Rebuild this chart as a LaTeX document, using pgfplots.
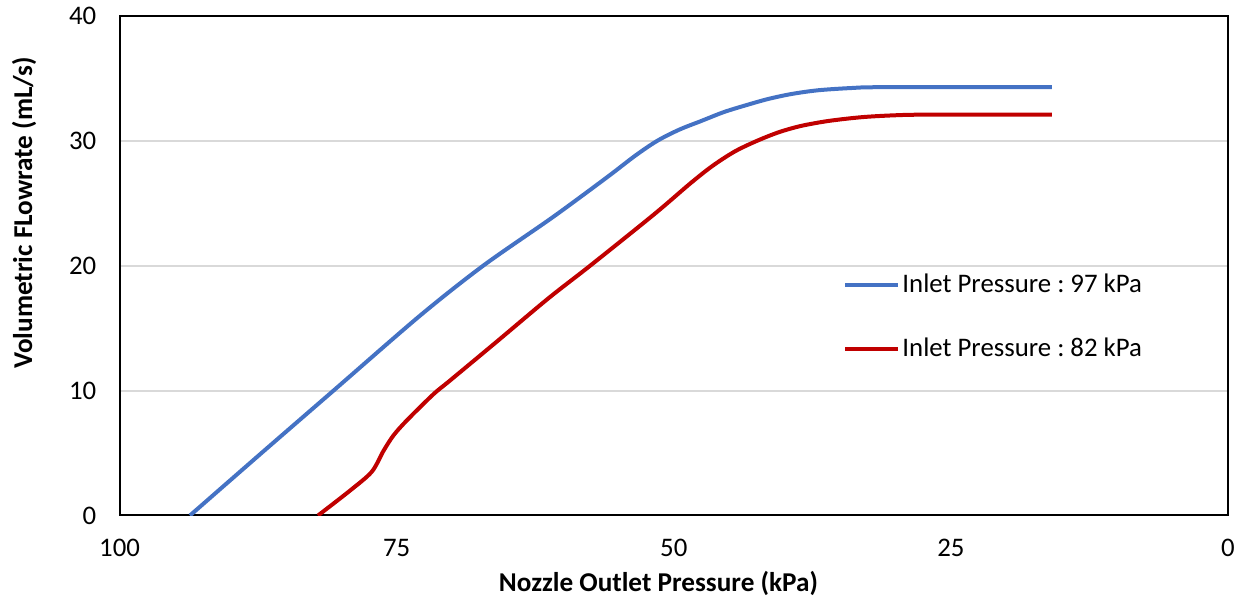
\documentclass[border=0pt]{standalone}
\usepackage{fontspec}
\setmainfont{Carlito}
\usepackage{pgfplots}
\pgfplotsset{compat=1.18}
\definecolor{cblue}{HTML}{4472C4}
\definecolor{cred}{HTML}{C00000}
\definecolor{cgrid}{HTML}{D9D9D9}
\frenchspacing
\begin{document}
\begin{tikzpicture}
\path[use as bounding box] (-59.8pt,-41.25pt) rectangle (559.2pt,257.75pt);
\begin{axis}[
  scale only axis,
  width=554.2pt, height=249.75pt,
  x dir=reverse,
  xmin=0, xmax=100, ymin=0, ymax=40,
  xtick={0,25,50,75,100},
  ytick={0,10,20,30,40},
  tick style={draw=none},
  /pgf/number format/assume math mode=true,
  font=\fontsize{13.4pt}{15pt}\selectfont,
  ymajorgrids,
  grid style={cgrid, line width=1pt},
  axis line style={black, line width=1pt},
  xticklabel style={anchor=center, yshift=-16.25pt},
  yticklabel style={anchor=east, inner sep=0pt, xshift=-11.5pt},
  xlabel={\fontsize{13.6pt}{15pt}\selectfont\bfseries Nozzle Outlet Pressure (kPa)},
  ylabel={\fontsize{13.6pt}{15pt}\selectfont\bfseries Volumetric FLowrate (mL/s)},
  xlabel style={at={(axis description cs:0.4862,-0.1351)}, anchor=center},
  ylabel style={at={(axis description cs:-0.0862,0.606)}, anchor=center},
  legend style={draw=none, fill=none, at={(axis description cs:0.6527,0.3974)}, anchor=west, inner sep=0pt, row sep=21pt, nodes={inner sep=0pt, anchor=west}},
  legend cell align=left,
  legend image code/.code={\draw[#1] (0pt,0pt) -- (26.5pt,0pt); \path (27.5pt,0pt);},
]
\addplot[cblue, line width=2pt, smooth, tension=0.5] coordinates {
(93.65,0) (87.2,5.0) (80.7,10.0) (72.9,16.0) (67.2,20.0) (60.9,23.9) (56.0,27.1) (53.5,28.8) (51.5,30.0) (49.5,30.9) (47.5,31.6) (45.5,32.3) (43.5,32.85) (41.5,33.35) (39.4,33.75) (37.0,34.05) (34.0,34.23) (31.0,34.3) (15.9,34.3)
};
\addlegendentry{Inlet Pressure : 97 kPa}
\addplot[cred, line width=2pt, smooth, tension=0.5] coordinates {
(82.1,0) (79.2,2.0) (77.25,3.5) (76.2,5.16) (75.3,6.4) (74.1,7.6) (71.7,9.7) (70.2,10.8) (66.0,13.9) (61.3,17.4) (57.55,20.0) (51.8,24.1) (48.5,26.6) (46.5,28.0) (44.5,29.15) (42.5,30.0) (40.5,30.7) (38.5,31.2) (36.0,31.6) (33.0,31.9) (30.0,32.05) (27.0,32.1) (15.9,32.1)
};
\addlegendentry{Inlet Pressure : 82 kPa}
\end{axis}
\end{tikzpicture}
\end{document}
